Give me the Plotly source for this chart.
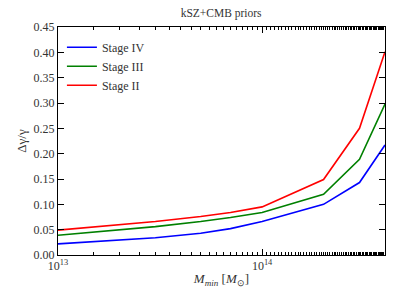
import plotly.graph_objects as go
import numpy as np

mass = [1e13, 2e13, 3e13, 5e13, 7e13, 1e14, 2e14, 3e14, 4e14]
stage_iv = [0.022, 0.029, 0.034, 0.043, 0.052, 0.066, 0.100, 0.143, 0.217]
stage_iii = [0.039, 0.049, 0.056, 0.066, 0.074, 0.084, 0.120, 0.189, 0.298]
stage_ii = [0.049, 0.059, 0.066, 0.076, 0.084, 0.095, 0.149, 0.250, 0.401]

series = [("Stage IV", stage_iv, "#0000ff"),
          ("Stage III", stage_iii, "#008000"),
          ("Stage II", stage_ii, "#ff0000")]

font_family = "Liberation Serif"

fig = go.Figure()
for name, vals, col in series:
    fig.add_trace(go.Scatter(x=mass, y=vals, mode="lines", name=name,
                             line=dict(color=col, width=1.6)))

fig.update_layout(
    width=391, height=291,
    margin=dict(l=45, r=14, t=17, b=44),
    paper_bgcolor="white", plot_bgcolor="white",
    font=dict(family=font_family, size=12, color="#333333"),
    title=dict(text="kSZ+CMB priors", x=0.545, xanchor="center", y=0.998, yanchor="top",
               font=dict(family=font_family, size=11.5, color="#333333")),
    showlegend=True,
    legend=dict(x=0.012, y=0.975, xanchor="left", yanchor="top",
                bgcolor="rgba(0,0,0,0)", borderwidth=0,
                font=dict(family=font_family, size=12, color="#333333"),
                itemwidth=30, tracegroupgap=0),
)

fig.update_xaxes(
    type="log", range=[13, np.log10(4e14)],
    tickvals=[1e13, 1e14], ticktext=["10<sup>13</sup>", "10<sup>14</sup>"],
    ticks="inside", ticklen=6, tickcolor="black",
    minor=dict(ticks="inside", ticklen=3, tickcolor="black", showgrid=False),
    showline=True, linecolor="black", linewidth=1, mirror="allticks",
    showgrid=False, zeroline=False,
    title=dict(text="<i>M</i><sub><i>min</i></sub> [<i>M</i><sub>⊙</sub>]", standoff=1,
               font=dict(family=font_family, size=13)),
)
fig.update_yaxes(
    range=[0, 0.45], dtick=0.05, tick0=0, tickformat=".2f",
    ticks="inside", ticklen=6, tickcolor="black",
    showline=True, linecolor="black", linewidth=1, mirror="allticks",
    showgrid=False, zeroline=False,
    title=dict(text="Δγ/γ", standoff=4, font=dict(family=font_family, size=13)),
)

fig.write_html("out.html")
